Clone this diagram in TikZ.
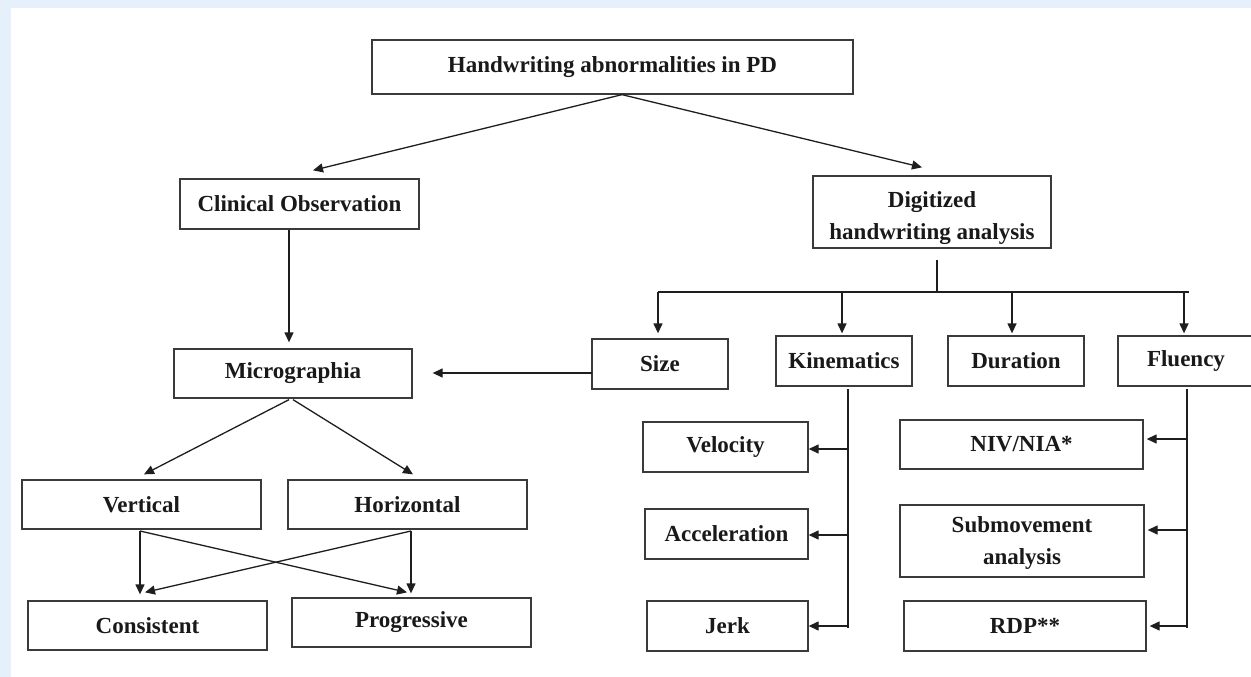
\documentclass[tikz,border=0pt]{standalone}
\usepackage{fontspec}
\setmainfont{Liberation Serif}
\usetikzlibrary{arrows.meta}
\definecolor{bgblue}{HTML}{E6F0FA}
\definecolor{boxline}{HTML}{3A3A3A}
\definecolor{conn}{HTML}{1E1E1E}
\begin{document}
\begin{tikzpicture}[x=1pt,y=-1pt,
  txt/.style={align=center, font=\fontsize{23}{32}\selectfont\bfseries, text=black!90},
  box/.style n args={2}{draw=boxline, line width=1.3pt, minimum width=#1, minimum height=#2,
    inner sep=2pt, txt},
  ln/.style={draw=conn, line width=1.3pt},
  arr/.style={ln, -{Triangle[length=10pt,width=9pt]}}]
\useasboundingbox (0,0) rectangle (1251,677);
\clip (0,0) rectangle (1251,677);
\fill[bgblue] (0,0) rectangle (1251,677);
\fill[white] (11,8) rectangle (1251,677);

% boxes
\node[box={481pt}{54pt}] (top) at (612.5,67) {Handwriting abnormalities in PD};
\node[box={239pt}{50pt}] (clin) at (299.5,204) {Clinical Observation};
\node[box={238pt}{72pt}, label={[txt, yshift=-6pt]center:{Digitized\\handwriting analysis}}] (digi) at (932,212) {};
\node[box={136pt}{50pt}] (size) at (660,364) {Size};
\node[box={136pt}{50pt}] (kin) at (844,361) {Kinematics};
\node[box={136pt}{50pt}] (dur) at (1016,361) {Duration};
\node[box={136pt}{50pt}] (flu) at (1186,361) {Fluency};
\node[box={238pt}{49pt}] (micro) at (293,373.5) {Micrographia};
\node[box={239pt}{49pt}] (vert) at (141.5,504.5) {Vertical};
\node[box={239pt}{49pt}] (horiz) at (407.5,504.5) {Horizontal};
\node[box={239pt}{49pt}] (cons) at (147.5,625.5) {Consistent};
\node[box={239pt}{49pt}] (prog) at (411.5,622.5) {Progressive};
\node[box={165pt}{50pt}] (vel) at (725.5,447) {Velocity};
\node[box={163pt}{50pt}] (acc) at (726.5,534) {Acceleration};
\node[box={161pt}{50pt}] (jerk) at (727.5,626) {Jerk};
\node[box={243pt}{49pt}] (niv) at (1021.5,444.5) {NIV/NIA*};
\node[box={244pt}{72pt}, label={[txt, yshift=-2pt]center:{Submovement\\analysis}}] (sub) at (1022,541) {};
\node[box={242pt}{50pt}] (rdp) at (1025,626) {RDP**};

% junction coordinates
\coordinate (hb) at (937,292);
\coordinate (hL) at (658,292);
\coordinate (hK) at (842,292);
\coordinate (hD) at (1012,292);
\coordinate (hF) at (1184,292);
\coordinate (hR) at (1189,292);
\coordinate (sz) at (592,373);
\coordinate (vs) at (140,531);
\coordinate (hs) at (411,531);
\coordinate (kt) at (848,389);
\coordinate (kb) at (848,628);
\coordinate (k1) at (848,449);
\coordinate (k2) at (848,535);
\coordinate (k3) at (848,626);
\coordinate (ft) at (1187,389);
\coordinate (fb) at (1187,628);
\coordinate (f1) at (1187,439);
\coordinate (f2) at (1187,530);
\coordinate (f3) at (1187,626);

% connectors
\draw[arr] ([xshift=9.5pt]top.south) -- ([xshift=13.5pt,yshift=8pt]clin.north);
\draw[arr] ([xshift=9.5pt]top.south) -- ([xshift=-10pt,yshift=8pt]digi.north);
\draw[arr] ([xshift=-10.5pt]clin.south) -- ([xshift=-4pt,yshift=6pt]micro.north);

\draw[ln] ([xshift=5pt,yshift=-11pt]digi.south) -- (hb);
\draw[ln] (hL) -- (hR);
\draw[arr, shorten >=5pt] (hL) -- (hL |- size.north);
\draw[arr, shorten >=2pt] (hK) -- (hK |- kin.north);
\draw[arr, shorten >=2pt] (hD) -- (hD |- dur.north);
\draw[arr, shorten >=2pt] (hF) -- (hF |- flu.north);

\draw[arr, shorten >=20pt] (sz) -- (sz -| micro.east);

\draw[arr] ([xshift=-4pt,yshift=-1pt]micro.south) -- ([xshift=2.5pt,yshift=5pt]vert.north);
\draw[arr] ([yshift=-1pt]micro.south) -- ([xshift=5.5pt,yshift=5pt]horiz.north);

\draw[arr, shorten >=6pt] (vs) -- (vs |- cons.north);
\draw[arr] (vs) -- ([xshift=-4.5pt,yshift=5pt]prog.north);
\draw[arr, shorten >=4pt] (hs) -- (hs |- prog.north);
\draw[arr] (hs) -- ([xshift=-2.5pt,yshift=8pt]cons.north);

\draw[ln] (kt) -- (kb);
\draw[arr] (k1) -- (k1 -| vel.east);
\draw[arr] (k2) -- (k2 -| acc.east);
\draw[arr] (k3) -- (k3 -| jerk.east);

\draw[ln] (ft) -- (fb);
\draw[arr, shorten >=3pt] (f1) -- (f1 -| niv.east);
\draw[arr, shorten >=3pt] (f2) -- (f2 -| sub.east);
\draw[arr, shorten >=3pt] (f3) -- (f3 -| rdp.east);
\end{tikzpicture}
\end{document}
